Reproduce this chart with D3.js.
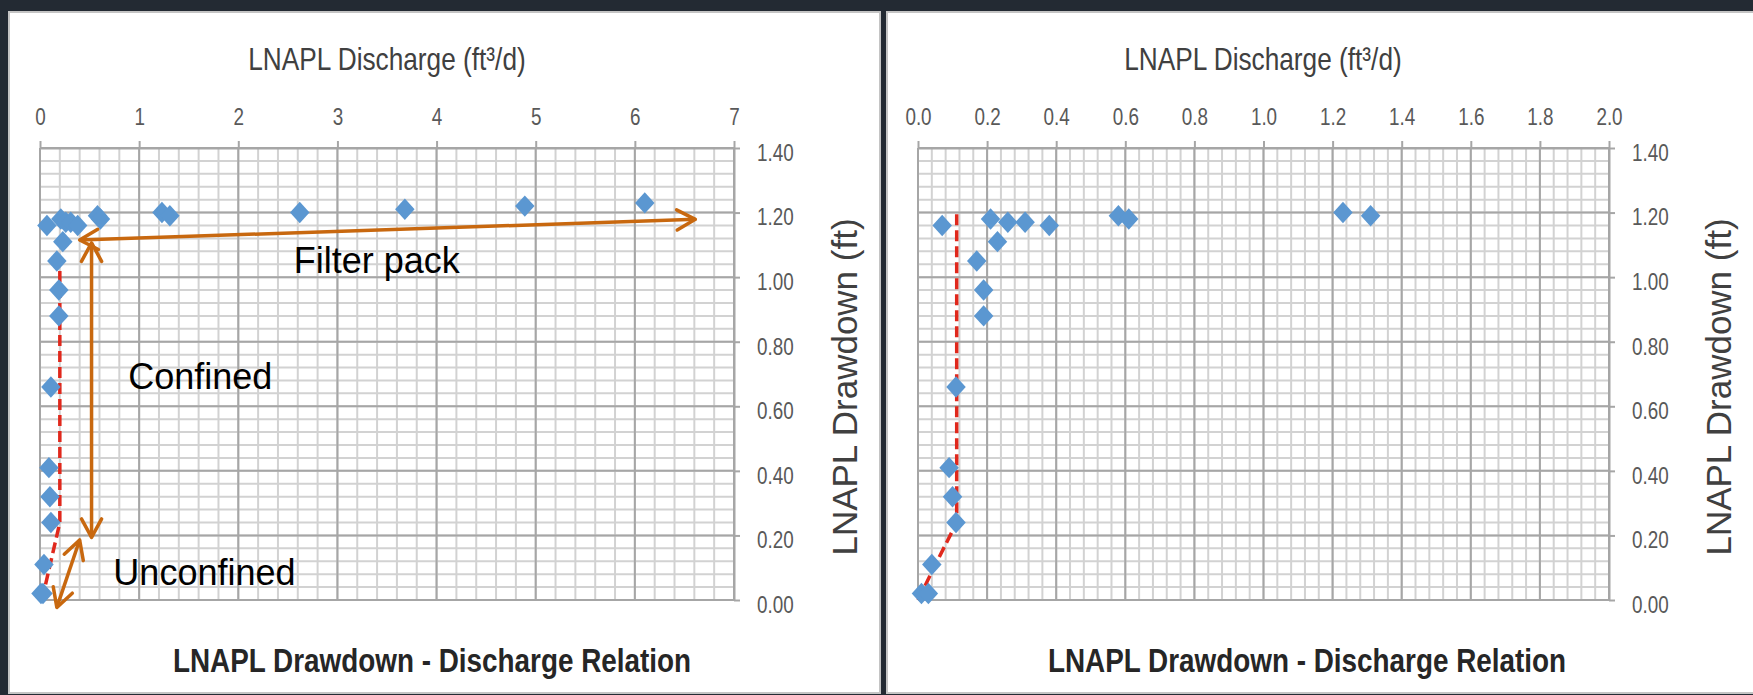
<!DOCTYPE html>
<html>
<head>
<meta charset="utf-8">
<script src="https://d3js.org/d3.v7.min.js"></script>
<style>
  body { margin: 0; background: #232a33; }
  svg { display: block; }
</style>
</head>
<body>
<svg width="1753" height="695"></svg>
<script>
// LNAPL drawdown vs discharge (same measurements in both panels)
var discharge = [0.01, 0.03, 0.04, 0.11, 0.10, 0.09, 0.11, 0.19, 0.19, 0.17, 0.23, 0.07,
                 0.21, 0.26, 0.31, 0.38, 0.58, 0.61, 1.23, 1.31, 2.62, 3.68, 4.89, 6.10];
var drawdown  = [0.02, 0.02, 0.11, 0.24, 0.32, 0.41, 0.66, 0.88, 0.96, 1.05, 1.11, 1.16,
                 1.18, 1.17, 1.17, 1.16, 1.19, 1.18, 1.20, 1.19, 1.20, 1.21, 1.22, 1.23];

// red dashed trend lines
var leftFitQ  = [0.02, 0.20, 0.20];
var leftFitS  = [0.00, 0.24, 1.05];
var rightFitQ = [0.00, 0.06, 0.112, 0.112];
var rightFitS = [0.00, 0.13, 0.24, 1.21];

// tick labels
var leftXTicks  = [0, 1, 2, 3, 4, 5, 6, 7];
var rightXTicks = [0, 0.2, 0.4, 0.6, 0.8, 1.0, 1.2, 1.4, 1.6, 1.8, 2.0];
var yTicks      = [0, 0.2, 0.4, 0.6, 0.8, 1.0, 1.2, 1.4];

// annotations on left panel (data units)
var annoText = ["Filter pack", "Confined", "Unconfined"];
var annoQ    = [2.56, 0.89, 0.74];
var annoS    = [1.013, 0.653, 0.046];
var arrowQ1  = [0.40, 0.52, 0.40];
var arrowS1  = [1.115, 1.106, 0.186];
var arrowQ2  = [6.61, 0.52, 0.17];
var arrowS2  = [1.179, 0.194, -0.023];

var svg = d3.select("svg");
var sans = "'Liberation Sans', Arial, sans-serif";
var narrow = 0.82; // squeeze Liberation Sans to look like the narrow Calibri labels

svg.append("rect").attr("width", 1753).attr("height", 695).attr("fill", "#232a33");

// text squeezed horizontally around its anchor point
function narrowText(g, x, y, size, txt) {
  return g.append("text")
    .attr("transform", "translate(" + x + "," + y + ") scale(" + narrow + ",1)")
    .attr("text-anchor", "middle")
    .style("font-family", sans).style("font-size", size + "px")
    .text(txt);
}

var panels = [
  { px: 9, pw: 871, x0: 40, x1: 734, xMax: 7, xTicks: leftXTicks, xMinor: 0.2,
    fmt: d3.format("d"), fitQ: leftFitQ, fitS: leftFitS, titleX: 387, bottomX: 432, yTitleX: 857, anno: true },
  { px: 887, pw: 870, x0: 918, x1: 1609, xMax: 2, xTicks: rightXTicks, xMinor: 0.04,
    fmt: d3.format(".1f"), fitQ: rightFitQ, fitS: rightFitS, titleX: 1263, bottomX: 1307, yTitleX: 1731, anno: false }
];

var y = d3.scaleLinear().domain([0, 1.4]).range([600, 148]);

panels.forEach(function (p) {
  var g = svg.append("g");
  g.append("rect")
    .attr("x", p.px).attr("y", 12).attr("width", p.pw).attr("height", 681)
    .attr("fill", "#ffffff").attr("stroke", "#c4c4c4").attr("stroke-width", 2);

  var x = d3.scaleLinear().domain([0, p.xMax]).range([p.x0, p.x1]);

  // minor grid
  var xm = d3.range(0, p.xMax + 1e-9, p.xMinor);
  var ym = d3.range(0, 1.4 + 1e-9, 0.04);
  g.append("g").selectAll("line").data(xm).enter().append("line")
    .attr("x1", function (d) { return x(d); }).attr("x2", function (d) { return x(d); })
    .attr("y1", y(0)).attr("y2", y(1.4))
    .attr("stroke", "#d2d2d2").attr("stroke-width", 2);
  g.append("g").selectAll("line").data(ym).enter().append("line")
    .attr("y1", function (d) { return y(d); }).attr("y2", function (d) { return y(d); })
    .attr("x1", x(0)).attr("x2", x(p.xMax))
    .attr("stroke", "#d2d2d2").attr("stroke-width", 2);

  // major grid
  g.append("g").selectAll("line").data(p.xTicks).enter().append("line")
    .attr("x1", function (d) { return x(d); }).attr("x2", function (d) { return x(d); })
    .attr("y1", y(0)).attr("y2", y(1.4))
    .attr("stroke", "#a6a6a6").attr("stroke-width", 2);
  g.append("g").selectAll("line").data(yTicks).enter().append("line")
    .attr("y1", function (d) { return y(d); }).attr("y2", function (d) { return y(d); })
    .attr("x1", x(0)).attr("x2", x(p.xMax))
    .attr("stroke", "#a6a6a6").attr("stroke-width", 2);

  // axes
  var xa = g.append("g").attr("transform", "translate(0," + y(1.4) + ")")
    .call(d3.axisTop(x).tickValues(p.xTicks).tickFormat(p.fmt).tickSize(7).tickSizeOuter(0).tickPadding(16));
  var ya = g.append("g").attr("transform", "translate(" + x(p.xMax) + ",0)")
    .call(d3.axisRight(y).tickValues(yTicks).tickFormat(d3.format(".2f")).tickSize(6).tickSizeOuter(0));
  [xa, ya].forEach(function (a) {
    a.select(".domain").attr("stroke", "#a6a6a6").attr("stroke-width", 2);
    a.selectAll(".tick line").attr("stroke", "#a6a6a6").attr("stroke-width", 2);
    a.selectAll("text").attr("fill", "#595959").style("font-family", sans).style("font-size", "23px")
      .attr("transform", "scale(" + narrow + ",1)");
  });
  ya.selectAll("text").attr("x", 23 / narrow).attr("y", 5);

  // fitted red dashed line
  var fit = p.fitQ.map(function (q, i) { return [q, p.fitS[i]]; });
  var line = d3.line()
    .x(function (d) { return x(d[0]); })
    .y(function (d) { return y(d[1]); });
  g.append("path").datum(fit).attr("d", line)
    .attr("fill", "none").attr("stroke", "#e0281c").attr("stroke-width", 3.5)
    .attr("stroke-dasharray", "11,5");

  // diamonds
  var pts = discharge.map(function (q, i) { return [q, drawdown[i]]; })
    .filter(function (d) { return d[0] <= p.xMax; });
  g.append("g").selectAll("path").data(pts).enter().append("path")
    .attr("d", d3.symbol().type(d3.symbolSquare).size(190))
    .attr("transform", function (d) {
      return "translate(" + x(d[0]) + "," + y(d[1]) + ") scale(1,1.1) rotate(45)";
    })
    .attr("fill", "#5b97d1");

  // titles
  narrowText(g, p.titleX, 70, 32, "LNAPL Discharge (ft\u00B3/d)").attr("fill", "#404040");
  g.append("text").attr("text-anchor", "middle")
    .attr("transform", "translate(" + p.yTitleX + ",387) rotate(-90)")
    .style("font-family", sans).style("font-size", "35px")
    .attr("fill", "#404040")
    .text("LNAPL Drawdown  (ft)");
  narrowText(g, p.bottomX, 672, 34, "LNAPL Drawdown - Discharge Relation")
    .style("font-weight", "bold").attr("fill", "#262626");

  if (p.anno) {
    var orange = "#c8680f";
    annoText.forEach(function (t, i) {
      g.append("text").attr("x", x(annoQ[i])).attr("y", y(annoS[i]))
        .style("font-family", sans).style("font-size", "36px")
        .attr("fill", "#000000").text(t);
    });
    arrowQ1.forEach(function (q, i) {
      var ax = x(q), ay = y(arrowS1[i]), bx = x(arrowQ2[i]), by = y(arrowS2[i]);
      g.append("line").attr("x1", ax).attr("y1", ay).attr("x2", bx).attr("y2", by)
        .attr("stroke", orange).attr("stroke-width", 3.5);
      [[ax, ay, bx, by], [bx, by, ax, ay]].forEach(function (e) {
        var ang = Math.atan2(e[3] - e[1], e[2] - e[0]);
        var L = 21, da = 0.5;
        var h = "M" + (e[0] + L * Math.cos(ang + da)) + "," + (e[1] + L * Math.sin(ang + da)) +
                "L" + e[0] + "," + e[1] +
                "L" + (e[0] + L * Math.cos(ang - da)) + "," + (e[1] + L * Math.sin(ang - da));
        g.append("path").attr("d", h).attr("fill", "none")
          .attr("stroke", orange).attr("stroke-width", 3.5).attr("stroke-linecap", "round")
          .attr("stroke-linejoin", "round");
      });
    });
  }
});
</script>
</body>
</html>
